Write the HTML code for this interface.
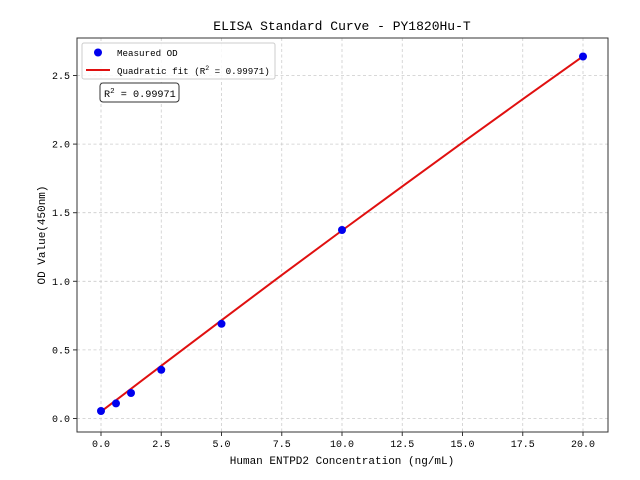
<!DOCTYPE html>
<html><head><meta charset="utf-8"><style>body{margin:0;background:#fff}svg{display:block}text{font-family:"Liberation Mono",monospace;fill:#000}</style></head><body>
<svg width="640" height="480" xmlns="http://www.w3.org/2000/svg">
<g stroke="#ccc" stroke-width="0.8" stroke-dasharray="3,2.5">
<line x1="101" y1="38" x2="101" y2="432"/><line x1="161.25" y1="38" x2="161.25" y2="432"/><line x1="221.5" y1="38" x2="221.5" y2="432"/><line x1="281.75" y1="38" x2="281.75" y2="432"/><line x1="342" y1="38" x2="342" y2="432"/><line x1="402.25" y1="38" x2="402.25" y2="432"/><line x1="462.5" y1="38" x2="462.5" y2="432"/><line x1="522.75" y1="38" x2="522.75" y2="432"/><line x1="583" y1="38" x2="583" y2="432"/>
<line x1="77" y1="418.5" x2="608" y2="418.5"/><line x1="77" y1="349.9" x2="608" y2="349.9"/><line x1="77" y1="281.3" x2="608" y2="281.3"/><line x1="77" y1="212.7" x2="608" y2="212.7"/><line x1="77" y1="144.1" x2="608" y2="144.1"/><line x1="77" y1="75.5" x2="608" y2="75.5"/>
</g>
<rect x="77" y="38" width="531" height="394" fill="none" stroke="#333" stroke-width="1"/>
<g stroke="#333"><line x1="101" y1="432" x2="101" y2="436"/><line x1="161.25" y1="432" x2="161.25" y2="436"/><line x1="221.5" y1="432" x2="221.5" y2="436"/><line x1="281.75" y1="432" x2="281.75" y2="436"/><line x1="342" y1="432" x2="342" y2="436"/><line x1="402.25" y1="432" x2="402.25" y2="436"/><line x1="462.5" y1="432" x2="462.5" y2="436"/><line x1="522.75" y1="432" x2="522.75" y2="436"/><line x1="583" y1="432" x2="583" y2="436"/>
<line x1="73" y1="418.5" x2="77" y2="418.5"/><line x1="73" y1="349.9" x2="77" y2="349.9"/><line x1="73" y1="281.3" x2="77" y2="281.3"/><line x1="73" y1="212.7" x2="77" y2="212.7"/><line x1="73" y1="144.1" x2="77" y2="144.1"/><line x1="73" y1="75.5" x2="77" y2="75.5"/></g>
<g font-size="10" text-anchor="middle"><text x="101" y="447">0.0</text><text x="161.25" y="447">2.5</text><text x="221.5" y="447">5.0</text><text x="281.75" y="447">7.5</text><text x="342" y="447">10.0</text><text x="402.25" y="447">12.5</text><text x="462.5" y="447">15.0</text><text x="522.75" y="447">17.5</text><text x="583" y="447">20.0</text></g>
<g font-size="10" text-anchor="end"><text x="70" y="422">0.0</text><text x="70" y="353.5">0.5</text><text x="70" y="285">1.0</text><text x="70" y="216">1.5</text><text x="70" y="147.5">2.0</text><text x="70" y="79">2.5</text></g>
<text x="342" y="464" font-size="11" text-anchor="middle">Human ENTPD2 Concentration (ng/mL)</text>
<text transform="translate(45,235) rotate(-90)" font-size="11" text-anchor="middle">OD Value(450nm)</text>
<text x="342" y="30" font-size="13" text-anchor="middle">ELISA Standard Curve - PY1820Hu-T</text>
<polyline fill="none" stroke="#e01010" stroke-width="2" points="101,411.6 161.25,365.8 221.5,320.3 281.75,275.1 342,230.5 402.25,186.4 462.5,142.6 522.75,99.2 583,56.3"/>
<g fill="#0000ee"><circle cx="101" cy="411" r="4"/><circle cx="116" cy="403.4" r="4"/><circle cx="131" cy="393" r="4"/><circle cx="161.25" cy="369.8" r="4"/><circle cx="221.5" cy="323.8" r="4"/><circle cx="342" cy="230" r="4"/><circle cx="583" cy="56.5" r="4"/></g>
<rect x="82" y="43" width="193" height="36" rx="2" fill="#fff" fill-opacity="0.85" stroke="#ccc"/>
<circle cx="98" cy="52.5" r="4" fill="#0000ee"/>
<text x="117" y="56" font-size="9.2">Measured OD</text>
<line x1="86" y1="70" x2="110" y2="70" stroke="#e01010" stroke-width="2"/>
<text x="117" y="74" font-size="9.2">Quadratic fit (R<tspan font-size="6.5" dy="-4">2</tspan><tspan dy="4"> = 0.99971)</tspan></text>
<rect x="100" y="83" width="79" height="19" rx="3" fill="#fff" stroke="#333"/>
<text x="104" y="97" font-size="10.2">R<tspan font-size="7.5" dy="-4">2</tspan><tspan dy="4"> = 0.99971</tspan></text>
</svg>
</body></html>
